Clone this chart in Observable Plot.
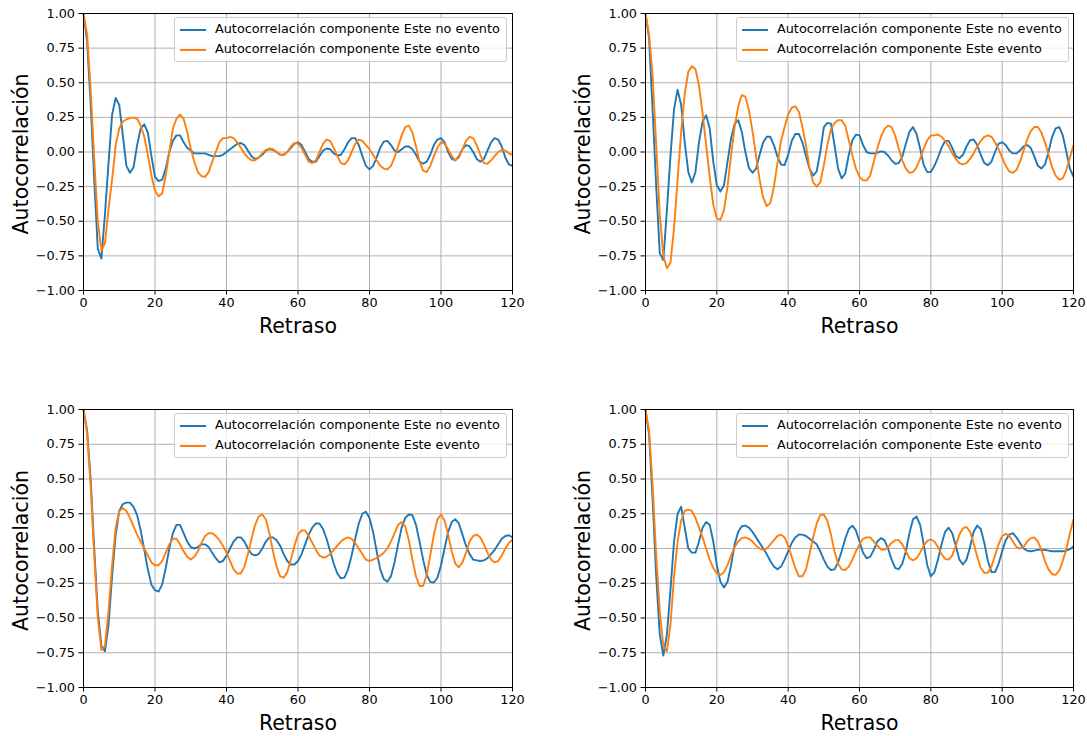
<!DOCTYPE html>
<html>
<head>
<meta charset="utf-8">
<script src="https://cdn.jsdelivr.net/npm/d3@7"></script>
<script src="https://cdn.jsdelivr.net/npm/@observablehq/plot@0.6"></script>
<style>
  html, body { margin: 0; padding: 0; background: white; }
  body { width: 1087px; height: 736px; position: relative; overflow: hidden; font-family: "DejaVu Sans", sans-serif; }
  .cell { position: absolute; }
  .legend { position: absolute; box-sizing: border-box; border: 1px solid #cccccc; border-radius: 3px; background: rgba(255,255,255,0.8); }
  .legend .sw { position: absolute; height: 2px; width: 26px; left: 5px; }
  .legend .lb { position: absolute; left: 40px; font-size: 12.8px; line-height: 16px; color: #000; white-space: nowrap; }
</style>
</head>
<body>
<script>
// ---- data ----
const lags = d3.range(0, 121);
const xTicks = [0, 20, 40, 60, 80, 100, 120];
const yTicks = [-1, -0.75, -0.5, -0.25, 0, 0.25, 0.5, 0.75, 1];
const seriesNames = ["Autocorrelación componente Este no evento", "Autocorrelación componente Este evento"];
const seriesColors = ["#1f77b4", "#ff7f0e"];
const xLabel = "Retraso";
const yLabel = "Autocorrelación";

const tlNo = [
 1.00, 0.80, 0.35, -0.20, -0.70, -0.77, -0.45, -0.08, 0.27, 0.39,
 0.34, 0.12, -0.10, -0.15, -0.11, 0.05, 0.17, 0.20, 0.14, -0.03,
 -0.18, -0.21, -0.20, -0.12, 0.00, 0.08, 0.12, 0.12, 0.07, 0.03,
 0.01, -0.01, -0.01, -0.01, -0.01, -0.02, -0.03, -0.03, -0.03, -0.02,
 0.00, 0.02, 0.04, 0.06, 0.065, 0.05, 0.01, -0.03, -0.05, -0.04,
 -0.02, 0.01, 0.02, 0.015, 0.00, -0.02, -0.02, 0.00, 0.03, 0.06,
 0.07, 0.05, 0.00, -0.05, -0.07, -0.07, -0.03, 0.01, 0.025, 0.02,
 -0.01, -0.025, -0.02, 0.02, 0.07, 0.10, 0.10, 0.05, -0.03, -0.10,
 -0.125, -0.10, -0.04, 0.03, 0.075, 0.08, 0.05, 0.01, 0.00, 0.02,
 0.04, 0.04, 0.02, -0.02, -0.07, -0.085, -0.07, -0.02, 0.05, 0.09,
 0.10, 0.07, 0.00, -0.05, -0.06, -0.03, 0.02, 0.05, 0.04, 0.00,
 -0.05, -0.07, -0.05, 0.01, 0.07, 0.10, 0.09, 0.04, -0.04, -0.09,
 -0.10];
const tlEv = [
 1.00, 0.85, 0.45, -0.05, -0.50, -0.71, -0.66, -0.41, -0.20, 0.05,
 0.17, 0.22, 0.235, 0.245, 0.25, 0.24, 0.19, 0.11, -0.02, -0.17,
 -0.28, -0.32, -0.30, -0.17, 0.00, 0.17, 0.24, 0.27, 0.24, 0.145,
 0.025, -0.07, -0.145, -0.175, -0.18, -0.145, -0.07, 0.00, 0.07, 0.10,
 0.10, 0.11, 0.10, 0.07, 0.03, -0.01, -0.04, -0.06, -0.06, -0.04,
 -0.01, 0.015, 0.025, 0.02, 0.00, -0.02, -0.02, 0.00, 0.04, 0.065,
 0.06, 0.03, -0.02, -0.07, -0.08, -0.06, 0.00, 0.06, 0.09, 0.08,
 0.03, -0.03, -0.08, -0.09, -0.06, 0.00, 0.06, 0.09, 0.08, 0.05,
 0.02, -0.02, -0.06, -0.10, -0.12, -0.125, -0.10, -0.04, 0.04, 0.12,
 0.18, 0.19, 0.14, 0.04, -0.07, -0.135, -0.145, -0.10, -0.03, 0.03,
 0.07, 0.06, 0.02, -0.03, -0.06, -0.04, 0.02, 0.08, 0.11, 0.10,
 0.05, -0.02, -0.08, -0.085, -0.06, -0.03, 0.00, 0.015, 0.01, -0.01,
 -0.02];
const trNo = [
 1.00, 0.82, 0.30, -0.25, -0.73, -0.78, -0.42, -0.03, 0.31, 0.45,
 0.34, 0.07, -0.145, -0.22, -0.145, 0.07, 0.22, 0.265, 0.17, -0.07,
 -0.24, -0.285, -0.24, -0.07, 0.10, 0.205, 0.23, 0.145, 0.00, -0.115,
 -0.15, -0.12, -0.02, 0.07, 0.11, 0.11, 0.05, -0.035, -0.09, -0.095,
 -0.02, 0.08, 0.13, 0.13, 0.07, -0.03, -0.12, -0.17, -0.14, 0.00,
 0.18, 0.21, 0.205, 0.05, -0.12, -0.19, -0.155, -0.02, 0.085, 0.125,
 0.12, 0.05, 0.00, -0.01, -0.01, -0.005, 0.005, 0.00, -0.025, -0.06,
 -0.085, -0.08, -0.035, 0.06, 0.145, 0.18, 0.13, 0.025, -0.095, -0.145,
 -0.145, -0.10, -0.04, 0.03, 0.08, 0.08, 0.03, -0.03, -0.045, -0.02,
 0.04, 0.085, 0.09, 0.05, -0.02, -0.08, -0.095, -0.07, 0.00, 0.06,
 0.07, 0.05, 0.01, -0.01, -0.01, 0.01, 0.04, 0.05, 0.03, -0.03,
 -0.10, -0.12, -0.09, 0.00, 0.11, 0.17, 0.18, 0.12, 0.00, -0.12,
 -0.18];
const trEv = [
 1.00, 0.85, 0.55, 0.05, -0.45, -0.75, -0.84, -0.80, -0.55, -0.20,
 0.15, 0.42, 0.58, 0.62, 0.60, 0.48, 0.28, 0.05, -0.18, -0.38,
 -0.48, -0.49, -0.42, -0.25, -0.02, 0.18, 0.33, 0.41, 0.40, 0.30,
 0.15, -0.03, -0.20, -0.33, -0.39, -0.37, -0.25, -0.08, 0.08, 0.18,
 0.27, 0.32, 0.33, 0.29, 0.18, 0.05, -0.12, -0.22, -0.25, -0.22,
 -0.095, 0.05, 0.165, 0.21, 0.23, 0.23, 0.19, 0.085, -0.025, -0.12,
 -0.18, -0.205, -0.205, -0.17, -0.07, 0.025, 0.11, 0.165, 0.19, 0.18,
 0.12, 0.025, -0.06, -0.12, -0.15, -0.145, -0.11, -0.05, 0.025, 0.085,
 0.12, 0.12, 0.125, 0.11, 0.08, 0.04, -0.01, -0.05, -0.08, -0.09,
 -0.08, -0.05, -0.01, 0.04, 0.08, 0.11, 0.12, 0.11, 0.07, 0.02,
 -0.04, -0.10, -0.14, -0.15, -0.13, -0.07, 0.01, 0.09, 0.15, 0.18,
 0.18, 0.14, 0.07, -0.02, -0.11, -0.17, -0.20, -0.19, -0.13, -0.04,
 0.05];
const blNo = [
 1.00, 0.85, 0.50, 0.00, -0.45, -0.70, -0.74, -0.55, -0.20, 0.10,
 0.27, 0.32, 0.33, 0.33, 0.30, 0.24, 0.13, -0.01, -0.15, -0.26,
 -0.30, -0.31, -0.26, -0.14, 0.00, 0.11, 0.17, 0.17, 0.11, 0.05,
 0.01, 0.00, 0.01, 0.03, 0.03, 0.01, -0.03, -0.07, -0.10, -0.09,
 -0.05, 0.00, 0.05, 0.08, 0.08, 0.05, 0.00, -0.04, -0.05, -0.04,
 0.00, 0.05, 0.08, 0.08, 0.06, 0.02, -0.04, -0.09, -0.115, -0.115,
 -0.09, -0.04, 0.03, 0.10, 0.15, 0.18, 0.18, 0.14, 0.07, -0.02,
 -0.11, -0.18, -0.215, -0.21, -0.15, -0.05, 0.07, 0.18, 0.25, 0.265,
 0.22, 0.12, -0.02, -0.15, -0.22, -0.24, -0.20, -0.10, 0.03, 0.15,
 0.22, 0.245, 0.24, 0.17, 0.05, -0.08, -0.19, -0.24, -0.245, -0.21,
 -0.12, 0.00, 0.12, 0.19, 0.21, 0.18, 0.10, 0.02, -0.04, -0.08,
 -0.085, -0.09, -0.085, -0.07, -0.04, -0.01, 0.03, 0.07, 0.09, 0.095,
 0.08];
const blEv = [
 1.00, 0.83, 0.45, -0.05, -0.50, -0.73, -0.70, -0.45, -0.12, 0.15,
 0.27, 0.29, 0.27, 0.22, 0.16, 0.10, 0.05, 0.00, -0.05, -0.10,
 -0.12, -0.12, -0.09, -0.03, 0.03, 0.07, 0.07, 0.03, -0.02, -0.06,
 -0.08, -0.06, -0.02, 0.04, 0.09, 0.11, 0.11, 0.09, 0.06, 0.02,
 -0.03, -0.09, -0.15, -0.18, -0.18, -0.13, -0.04, 0.07, 0.17, 0.23,
 0.245, 0.21, 0.11, -0.02, -0.13, -0.20, -0.21, -0.17, -0.08, 0.02,
 0.10, 0.13, 0.13, 0.09, 0.04, -0.01, -0.05, -0.065, -0.06, -0.04,
 -0.01, 0.02, 0.05, 0.07, 0.08, 0.07, 0.04, 0.00, -0.04, -0.08,
 -0.09, -0.08, -0.07, -0.05, -0.03, 0.00, 0.05, 0.11, 0.17, 0.19,
 0.16, 0.06, -0.08, -0.20, -0.27, -0.27, -0.19, -0.05, 0.10, 0.21,
 0.245, 0.20, 0.10, -0.02, -0.11, -0.135, -0.10, -0.03, 0.05, 0.09,
 0.10, 0.08, 0.03, -0.03, -0.08, -0.10, -0.09, -0.05, 0.00, 0.04,
 0.065];
const brNo = [
 1.00, 0.82, 0.35, -0.20, -0.62, -0.77, -0.62, -0.30, 0.05, 0.25,
 0.30, 0.15, 0.00, -0.03, -0.03, 0.05, 0.15, 0.19, 0.17, 0.05,
 -0.12, -0.24, -0.28, -0.24, -0.12, 0.03, 0.12, 0.16, 0.165, 0.15,
 0.12, 0.08, 0.04, 0.00, -0.04, -0.09, -0.13, -0.15, -0.13, -0.08,
 -0.02, 0.04, 0.08, 0.10, 0.10, 0.09, 0.07, 0.05, 0.03, -0.02,
 -0.08, -0.13, -0.155, -0.15, -0.10, -0.02, 0.07, 0.14, 0.165, 0.13,
 0.05, -0.03, -0.07, -0.06, -0.01, 0.05, 0.075, 0.06, 0.00, -0.08,
 -0.14, -0.15, -0.11, -0.02, 0.11, 0.21, 0.23, 0.17, 0.03, -0.12,
 -0.20, -0.17, -0.08, 0.03, 0.12, 0.15, 0.11, 0.02, -0.08, -0.115,
 -0.08, 0.01, 0.12, 0.165, 0.14, 0.04, -0.09, -0.17, -0.17, -0.11,
 -0.02, 0.06, 0.10, 0.11, 0.08, 0.04, 0.00, -0.015, -0.02, -0.015,
 -0.01, -0.01, -0.01, -0.015, -0.02, -0.02, -0.02, -0.02, -0.015, -0.005,
 0.015];
const brEv = [
 1.00, 0.85, 0.45, -0.05, -0.45, -0.70, -0.74, -0.55, -0.20, 0.05,
 0.20, 0.27, 0.28, 0.27, 0.22, 0.15, 0.08, 0.00, -0.08, -0.14,
 -0.18, -0.19, -0.17, -0.12, -0.05, 0.01, 0.05, 0.075, 0.08, 0.07,
 0.05, 0.02, 0.00, -0.01, 0.00, 0.03, 0.06, 0.09, 0.10, 0.08,
 0.02, -0.06, -0.14, -0.20, -0.20, -0.15, -0.04, 0.08, 0.18, 0.24,
 0.245, 0.20, 0.10, -0.02, -0.11, -0.15, -0.155, -0.13, -0.08, -0.02,
 0.03, 0.07, 0.08, 0.08, 0.05, 0.02, -0.005, -0.01, 0.01, 0.04,
 0.06, 0.06, 0.03, -0.02, -0.07, -0.085, -0.07, -0.03, 0.02, 0.055,
 0.065, 0.05, 0.01, -0.04, -0.075, -0.08, -0.05, 0.02, 0.10, 0.145,
 0.155, 0.12, 0.04, -0.06, -0.14, -0.175, -0.175, -0.13, -0.05, 0.03,
 0.09, 0.105, 0.09, 0.05, 0.01, 0.00, 0.01, 0.05, 0.075, 0.08,
 0.05, -0.01, -0.09, -0.15, -0.185, -0.19, -0.16, -0.09, 0.00, 0.11,
 0.21];

// ---- layout of the four panels (page coordinates of each svg) ----
const panels = [
  {no: tlNo, ev: tlEv, left: 0,   top: 0,   width: 543, height: 368, mr: 31, mb: 78},
  {no: trNo, ev: trEv, left: 562, top: 0,   width: 525, height: 368, mr: 14, mb: 78},
  {no: blNo, ev: blEv, left: 0,   top: 396, width: 543, height: 340, mr: 31, mb: 49},
  {no: brNo, ev: brEv, left: 562, top: 396, width: 525, height: 340, mr: 14, mb: 49}
];
const ML = 83, MT = 13;

function makePanel(p) {
  const rows = lags.map((l, i) => ({lag: l, no: p.no[i], ev: p.ev[i]}));
  return Plot.plot({
    width: p.width,
    height: p.height,
    marginLeft: ML,
    marginRight: p.mr,
    marginTop: MT,
    marginBottom: p.mb,
    style: {fontFamily: "DejaVu Sans", fontSize: "12.8px", color: "black", background: "transparent", overflow: "hidden"},
    x: {domain: [0, 120], ticks: xTicks},
    y: {domain: [-1, 1], ticks: yTicks},
    marks: [
      Plot.gridX(xTicks, {stroke: "#b0b0b0", strokeOpacity: 1, strokeWidth: 1}),
      Plot.gridY(yTicks, {stroke: "#b0b0b0", strokeOpacity: 1, strokeWidth: 1}),
      Plot.line(rows, {x: "lag", y: "no", stroke: seriesColors[0], strokeWidth: 1.9, strokeLinejoin: "round", strokeLinecap: "butt"}),
      Plot.line(rows, {x: "lag", y: "ev", stroke: seriesColors[1], strokeWidth: 1.9, strokeLinejoin: "round", strokeLinecap: "butt"}),
      Plot.frame({stroke: "black", strokeWidth: 1}),
      Plot.axisX({ticks: xTicks, tickSize: 4.5, tickPadding: 3, label: null, fontSize: 12.8, tickFormat: d => String(d)}),
      Plot.axisY({ticks: yTicks, tickSize: 4.5, tickPadding: 4, label: null, fontSize: 12.8, tickFormat: d3.format(".2f")}),
      Plot.text([xLabel], {text: d => d, frameAnchor: "bottom", dy: 36, fontSize: 20.5, lineAnchor: "middle", textAnchor: "middle", fill: "black"}),
      Plot.text([yLabel], {text: d => d, frameAnchor: "left", rotate: -90, dx: -56, dy: 2, fontSize: 20.5, lineAnchor: "bottom", textAnchor: "middle", fill: "black"})
    ]
  });
}

for (const p of panels) {
  const cell = document.createElement("div");
  cell.className = "cell";
  cell.style.left = p.left + "px";
  cell.style.top = p.top + "px";
  cell.style.width = p.width + "px";
  cell.style.height = p.height + "px";
  cell.appendChild(makePanel(p));
  document.body.appendChild(cell);

  // legend (upper right of the plot area)
  const lg = document.createElement("div");
  lg.className = "legend";
  lg.style.left = (p.left + ML + 91) + "px";
  lg.style.top = (p.top + MT + 4) + "px";
  lg.style.width = "333px";
  lg.style.height = "45px";
  seriesNames.forEach((name, i) => {
    const cy = 12 + i * 20;
    const sw = document.createElement("div");
    sw.className = "sw";
    sw.style.top = (cy - 1) + "px";
    sw.style.background = seriesColors[i];
    const lb = document.createElement("div");
    lb.className = "lb";
    lb.style.top = (cy - 9) + "px";
    lb.textContent = name;
    lg.appendChild(sw);
    lg.appendChild(lb);
  });
  document.body.appendChild(lg);
}
</script>
</body>
</html>
